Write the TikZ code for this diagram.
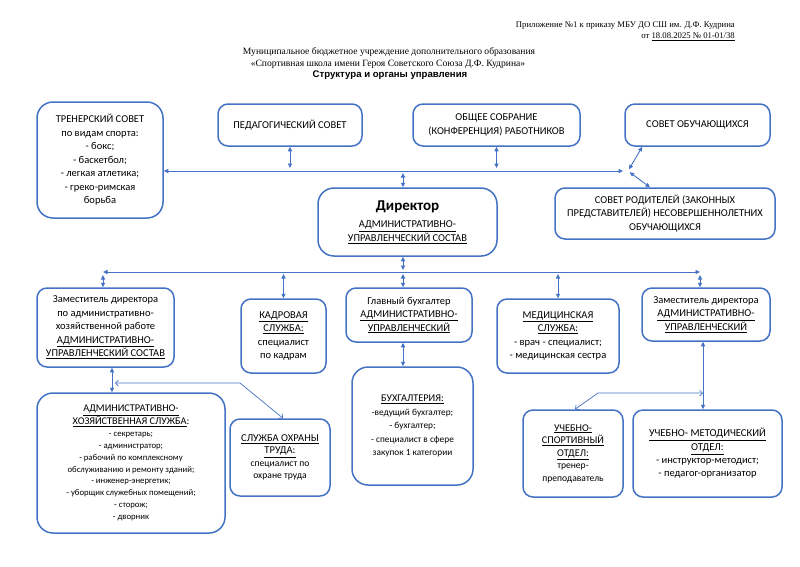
\documentclass[tikz,border=0pt]{standalone}
\usepackage{fontspec}
\setmainfont{Carlito}
\newfontfamily\headserif{Liberation Serif}
\newfontfamily\headsans{Liberation Sans}
\usetikzlibrary{arrows.meta}
\definecolor{orgblue}{RGB}{68,114,196}
\newcommand{\uln}[1]{\underline{#1}}
\newcommand{\smalltxt}{\fontsize{8.7}{11.8}\selectfont}
\tikzset{
  box/.style={draw=orgblue, line width=1.5pt, rounded corners=10pt, align=center,
    inner sep=1pt, font=\fontsize{10.5}{13.5}\selectfont},
  bigbox/.style={box, rounded corners=16pt},
  link/.style={orgblue, line width=0.9pt,
    {Triangle[length=4.5pt,width=4pt]}-{Triangle[length=4.5pt,width=4pt]}},
  barb/.style={orgblue, line width=0.7pt,
    {Straight Barb[length=3pt,width=6pt]}-{Straight Barb[length=3pt,width=6pt]}},
}
\begin{document}
\begin{tikzpicture}[x=1pt,y=-1pt]
  \useasboundingbox[fill=white] (0,0) rectangle (800,566);
  % header
  \node[anchor=east, font=\headserif\fontsize{8.7}{11}\selectfont, inner sep=0] (app) at (735,26)
    {Приложение №1 к приказу МБУ ДО СШ им. Д.Ф. Кудрина};
  \node[anchor=east, font=\headserif\fontsize{8.7}{11}\selectfont, inner sep=0] (appdate) at (735,37)
    {от \uln{18.08.2025 № 01-01/38}};
  \node[font=\headserif\fontsize{9.6}{12}\selectfont, inner sep=0] (org1) at (389,52)
    {Муниципальное бюджетное учреждение дополнительного образования};
  \node[font=\headserif\fontsize{9.6}{12}\selectfont, inner sep=0] (org2) at (388,64)
    {«Спортивная школа имени Героя Советского Союза Д.Ф. Кудрина»};
  \node[font=\headsans\bfseries\fontsize{9.6}{11}\selectfont, inner sep=0] (title) at (390,75)
    {Структура и органы управления};

  % top row
  \node[bigbox, minimum width=126pt, minimum height=116pt] (tren) at (100,160)
    {ТРЕНЕРСКИЙ СОВЕТ\\по видам спорта:\\- бокс;\\- баскетбол;\\- легкая атлетика;\\- греко-римская\\борьба};
  \node[box, minimum width=144pt, minimum height=42pt] (ped) at (290,125) {ПЕДАГОГИЧЕСКИЙ СОВЕТ};
  \node[box, minimum width=167pt, minimum height=42pt] (obsh) at (496.5,125)
    {ОБЩЕЕ СОБРАНИЕ\\(КОНФЕРЕНЦИЯ) РАБОТНИКОВ};
  \node[box, minimum width=145pt, minimum height=42pt] (sovob) at (697.5,125) {СОВЕТ ОБУЧАЮЩИХСЯ};
  \node[bigbox, minimum width=179pt, minimum height=68pt] (dir) at (407.5,222)
    {{\fontsize{15}{17}\selectfont\bfseries Директор}\\[4pt]\uln{АДМИНИСТРАТИВНО-}\\\uln{УПРАВЛЕНЧЕСКИЙ СОСТАВ}};
  \node[box, minimum width=220pt, minimum height=51pt] (rod) at (665,213.5)
    {СОВЕТ РОДИТЕЛЕЙ (ЗАКОННЫХ\\ПРЕДСТАВИТЕЛЕЙ) НЕСОВЕРШЕННОЛЕТНИХ\\ОБУЧАЮЩИХСЯ};

  % middle row
  \node[box, minimum width=137pt, minimum height=79pt] (zamahr) at (105.5,327.5)
    {Заместитель директора\\по административно-\\хозяйственной работе\\\uln{АДМИНИСТРАТИВНО-}\\\uln{УПРАВЛЕНЧЕСКИЙ СОСТАВ}};
  \node[box, minimum width=85pt, minimum height=74pt] (kadr) at (283.5,336)
    {\uln{КАДРОВАЯ}\\\uln{СЛУЖБА:}\\специалист\\по кадрам};
  \node[box, minimum width=126pt, minimum height=54pt] (glbuh) at (409,315)
    {Главный бухгалтер\\\uln{АДМИНИСТРАТИВНО-}\\\uln{УПРАВЛЕНЧЕСКИЙ}};
  \node[box, minimum width=122pt, minimum height=74pt] (med) at (558,336)
    {\uln{МЕДИЦИНСКАЯ}\\\uln{СЛУЖБА:}\\- врач - специалист;\\- медицинская сестра};
  \node[box, minimum width=128pt, minimum height=53pt] (zamum) at (706,314.5)
    {Заместитель директора\\\uln{АДМИНИСТРАТИВНО-}\\\uln{УПРАВЛЕНЧЕСКИЙ}};

  % bottom row
  \node[bigbox, minimum width=188pt, minimum height=140pt, font=\smalltxt] (ahs) at (131,463)
    {{\fontsize{10.3}{11.8}\selectfont\uln{АДМИНИСТРАТИВНО-}}\\{\fontsize{10.3}{11.8}\selectfont\uln{ХОЗЯЙСТВЕННАЯ СЛУЖБА}:}\\- секретарь;\\- администратор;\\- рабочий по комплексному\\обслуживанию и ремонту зданий;\\- инженер-энергетик;\\- уборщик служебных помещений;\\- сторож;\\- дворник};
  \node[box, minimum width=100pt, minimum height=77pt, font=\fontsize{9.6}{12.5}\selectfont] (ohr) at (280,457.5)
    {{\fontsize{10.5}{12.5}\selectfont\uln{СЛУЖБА ОХРАНЫ}}\\{\fontsize{10.5}{12.5}\selectfont\uln{ТРУДА:}}\\специалист по\\охране труда};
  \node[bigbox, minimum width=121pt, minimum height=118pt, font=\fontsize{9.3}{13.5}\selectfont] (buhg) at (412.5,426)
    {{\fontsize{10.3}{13.5}\selectfont\uln{БУХГАЛТЕРИЯ:}}\\-ведущий бухгалтер;\\- бухгалтер;\\- специалист в сфере\\закупок 1 категории};
  \node[box, minimum width=100pt, minimum height=87pt, font=\fontsize{9.6}{12.5}\selectfont] (uso) at (573,453.5)
    {{\fontsize{10.3}{12.5}\selectfont\uln{УЧЕБНО-}}\\{\fontsize{10.3}{12.5}\selectfont\uln{СПОРТИВНЫЙ}}\\{\fontsize{10.3}{12.5}\selectfont\uln{ОТДЕЛ:}}\\тренер-\\преподаватель};
  \node[box, minimum width=149pt, minimum height=87pt, font=\fontsize{10.5}{13}\selectfont] (umo) at (707.5,453.5)
    {{\fontsize{10.6}{13}\selectfont\uln{УЧЕБНО- МЕТОДИЧЕСКИЙ}}\\[1pt]{\fontsize{10.6}{13}\selectfont\uln{ОТДЕЛ:}}\\- инструктор-методист;\\- педагог-организатор};

  % bus points
  \coordinate (tbR) at (623,171);
  \coordinate (hub) at (628,171);
  \coordinate (lbL) at (103,272);
  \coordinate (lbR) at (700,272);
  \coordinate (dx) at (403,272);
  \coordinate (ax) at (112,383);
  \coordinate (ohrL) at (115,383);
  \coordinate (ohrK) at (240,383);
  \coordinate (ux) at (703,393);
  \coordinate (usoK) at (598,393);

  % upper connectors
  \draw[link] (tren.east |- tbR) -- (tbR);
  \draw[link, shorten >=3pt] (ped.south) -- (ped.south |- tbR);
  \draw[link, shorten >=3pt] (obsh.south) -- (obsh.south |- tbR);
  \draw[link, shorten <=2pt] (dx |- tbR) -- (dx |- dir.north);
  \draw[link, shorten <=2pt] (hub) -- ([xshift=18pt]sovob.south west);
  \draw[link, shorten <=2pt] (hub) -- ([xshift=-15pt]rod.north);

  % lower bus
  \draw[link] (lbL) -- (lbR);
  \draw[link, shorten >=2pt] (dx |- dir.south) -- (dx);
  \draw[link, shorten <=2pt] (dx) -- (dx |- glbuh.north);
  \draw[link, shorten <=3pt] (lbL) -- (lbL |- zamahr.north);
  \draw[link, shorten <=3pt] (lbR) -- (lbR |- zamum.north);
  \draw[link, shorten <=2pt] (kadr.north |- lbL) -- (kadr.north);
  \draw[link, shorten <=2pt] (med.north |- lbL) -- (med.north);

  % lower connectors
  \draw[link] (ax |- zamahr.south) -- (ax |- ahs.north);
  \draw[barb] (ohrL) -- (ohrK) -- ([xshift=3pt]ohr.north);
  \draw[link] (dx |- glbuh.south) -- (dx |- buhg.north);
  \draw[link] (ux |- zamum.south) -- (ux |- umo.north);
  \draw[barb] (ux) -- (usoK) -- ([xshift=2pt]uso.north);
\end{tikzpicture}
\end{document}
